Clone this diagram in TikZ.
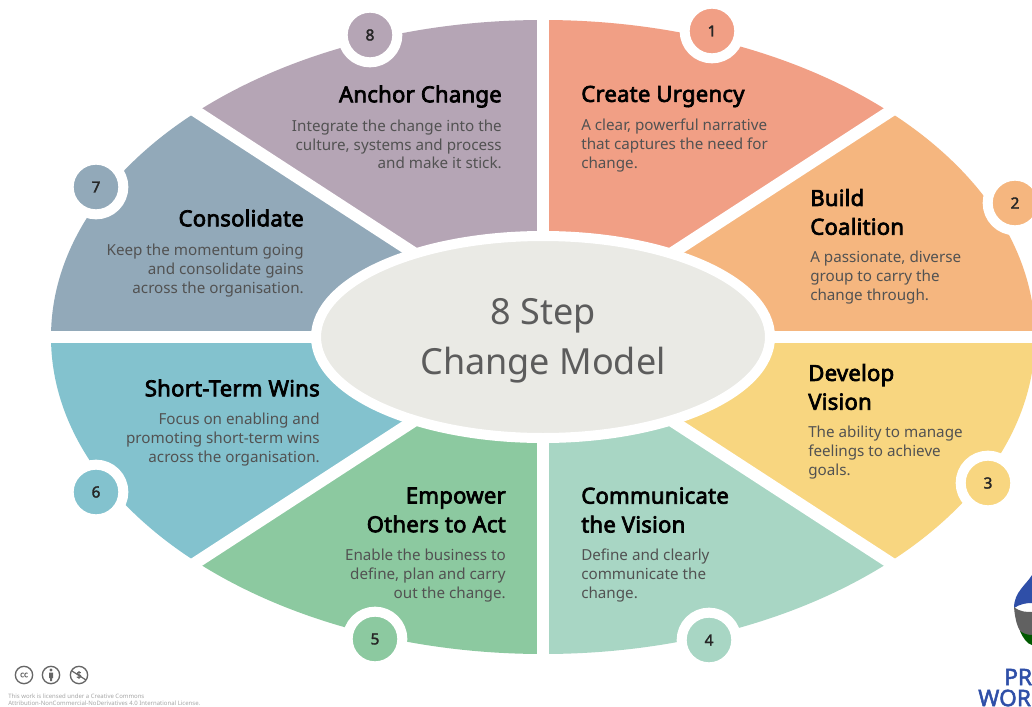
\documentclass[tikz,border=0pt]{standalone}
\usepackage{fontspec}
\setmainfont{Noto Sans}
\newfontfamily\headf[FakeBold=3.2,LetterSpace=1]{Noto Sans}
\newfontfamily\smallbold[FakeBold=2.2]{Noto Sans}
\definecolor{cA}{HTML}{F19F85}
\definecolor{cB}{HTML}{F5B67F}
\definecolor{cC}{HTML}{F8D680}
\definecolor{cD}{HTML}{A8D6C4}
\definecolor{cE}{HTML}{8CC9A0}
\definecolor{cF}{HTML}{83C2CE}
\definecolor{cG}{HTML}{92A9B9}
\definecolor{cH}{HTML}{B5A5B5}
\definecolor{hubc}{HTML}{EAEAE5}
\definecolor{logob}{HTML}{2F4FA8}
\tikzset{
 headL/.style={anchor=west,align=left,inner sep=0pt,font=\headf\fontsize{16.6pt}{21.6pt}\selectfont,text=black},
 headR/.style={anchor=east,align=right,inner sep=0pt,font=\headf\fontsize{16.6pt}{21.6pt}\selectfont,text=black},
 bodyL/.style={anchor=west,align=left,inner sep=0pt,font=\fontsize{11.4pt}{14.2pt}\selectfont,text=black!68,yshift=-1pt},
 bodyR/.style={anchor=east,align=right,inner sep=0pt,font=\fontsize{11.4pt}{14.2pt}\selectfont,text=black!68,yshift=-1pt},
 numdot/.style={circle,draw=white,line width=7.5pt,minimum size=41pt,inner sep=0pt,font=\smallbold\fontsize{11.5pt}{13pt}\selectfont,text=black!85},
 ccicon/.style={circle,draw=black!60,line width=1pt,minimum size=13pt,inner sep=0pt,text=black!60,font=\smallbold\fontsize{6pt}{6pt}\selectfont},
 fine/.style={anchor=west,inner sep=0pt,text=black!35,font=\fontsize{4.5pt}{5pt}\selectfont},
 logot/.style={anchor=west,inner sep=0pt,text=logob,font=\smallbold\fontsize{17pt}{18pt}\selectfont}
}
\begin{document}
\begin{tikzpicture}[x=.75pt,y=-.75pt]
\clip (0,0) rectangle (1032,707);
\fill[white] (0,0) rectangle (1032,707);
% wedges
\begin{scope}\clip (543,337) -- (543,-50) -- (1143,-53) -- cycle;\fill[cA] (543,337) ellipse [x radius=492,y radius=317];\end{scope}
\begin{scope}\clip (543,337) -- (1143,-53) -- (1143,337) -- cycle;\fill[cB] (543,337) ellipse [x radius=492,y radius=317];\end{scope}
\begin{scope}\clip (543,337) -- (1143,337) -- (1143,727) -- cycle;\fill[cC] (543,337) ellipse [x radius=492,y radius=317];\end{scope}
\begin{scope}\clip (543,337) -- (1143,727) -- (543,727) -- cycle;\fill[cD] (543,337) ellipse [x radius=492,y radius=317];\end{scope}
\begin{scope}\clip (543,337) -- (543,727) -- (-57,727) -- cycle;\fill[cE] (543,337) ellipse [x radius=492,y radius=317];\end{scope}
\begin{scope}\clip (543,337) -- (-57,727) -- (-57,337) -- cycle;\fill[cF] (543,337) ellipse [x radius=492,y radius=317];\end{scope}
\begin{scope}\clip (543,337) -- (-57,337) -- (-57,-53) -- cycle;\fill[cG] (543,337) ellipse [x radius=492,y radius=317];\end{scope}
\begin{scope}\clip (543,337) -- (-57,-53) -- (543,-50) -- cycle;\fill[cH] (543,337) ellipse [x radius=492,y radius=317];\end{scope}
% gaps
\draw[white,line width=9pt] (543,0) -- (543,700);
\draw[white,line width=9pt] (0,337) -- (1032,337);
\draw[white,line width=9pt] (-57,-53) -- (1143,727);
\draw[white,line width=9pt] (-57,727) -- (1143,-53);
% hub
\fill[hubc,draw=white,line width=7.5pt] (543,337) ellipse [x radius=227,y radius=101];
\node[inner sep=0pt,align=center,font=\fontsize{27pt}{37.5pt}\selectfont,text=black!64] (hub) at (543,341) {8 Step\\Change Model};
% number dots
\node[numdot,fill=cA] (n1) at (712,31) {1};
\node[numdot,fill=cB] (n2) at (1015,203) {2};
\node[numdot,fill=cC] (n3) at (988,483) {3};
\node[numdot,fill=cD] (n4) at (709,640) {4};
\node[numdot,fill=cE] (n5) at (375,639) {5};
\node[numdot,fill=cF] (n6) at (96,492) {6};
\node[numdot,fill=cG] (n7) at (96,187) {7};
\node[numdot,fill=cH] (n8) at (370,35) {8};
% steps
\node[headL] (h1) at (581,96.5) {Create Urgency};
\node[bodyL] (b1) at (581,144) {A clear, powerful narrative\\that captures the need for\\change.};
\node[headL] (h2) at (810,212) {Build\\Coalition};
\node[bodyL] (b2) at (810,276) {A passionate, diverse\\group to carry the\\change through.};
\node[headL] (h3) at (808,387) {Develop\\Vision};
\node[bodyL] (b3) at (808,451) {The ability to manage\\feelings to achieve\\goals.};
\node[headL] (h4) at (581,510) {Communicate\\the Vision};
\node[bodyL] (b4) at (581,574) {Define and clearly\\communicate the\\change.};
\node[headR] (h5) at (506,510) {Empower\\Others to Act};
\node[bodyR] (b5) at (506,574) {Enable the business to\\define, plan and carry\\out the change.};
\node[headR] (h6) at (320,388) {Short-Term Wins};
\node[bodyR] (b6) at (320,438) {Focus on enabling and\\promoting short-term wins\\across the organisation.};
\node[headR] (h7) at (304,218) {Consolidate};
\node[bodyR] (b7) at (304,269) {Keep the momentum going\\and consolidate gains\\across the organisation.};
\node[headR] (h8) at (502,96.5) {Anchor Change};
\node[bodyR] (b8) at (502,143) {Integrate the change into the\\culture, systems and process\\and make it stick.};
% licence
\node[ccicon] (cc1) at (24,675) {cc};
\node[ccicon] (cc2) at (51,675) {};
\fill[black!60] (51,670) circle [radius=1.6];
\fill[black!60] (49,672.5) rectangle (53,678) (50,678) rectangle (52,681);
\node[ccicon] (cc3) at (79,675) {};
\draw[black!60,line width=.9pt] (72,671) -- (86,680);
\node[text=black!60,inner sep=0pt,font=\smallbold\fontsize{7pt}{7pt}\selectfont] (cc3d) at (79,675) {\$};
\node[fine] (f1) at (8,696) {This work is licensed under a Creative Commons};
\node[fine] (f2) at (8,703) {Attribution-NonCommercial-NoDerivatives 4.0 International License.};
% logo
\fill[logob] (1032,575) .. controls (1026,585) and (1014,592) .. (1014,608) .. controls (1020,604) and (1026,603) .. (1032,603) -- cycle;
\fill[black!62] (1014,607) .. controls (1020,612) and (1026,612) .. (1032,612) -- (1032,640) .. controls (1024,638) and (1016,632) .. (1014,607) -- cycle;
\fill[green!35!black] (1020,631) .. controls (1024,634) and (1028,635) .. (1032,635) -- (1032,645) .. controls (1027,644) and (1023,638) .. (1020,631) -- cycle;
\node[logot] (lg1) at (1004,677) {PR};
\node[logot] (lg2) at (978,698) {WOR};
\end{tikzpicture}
\end{document}
